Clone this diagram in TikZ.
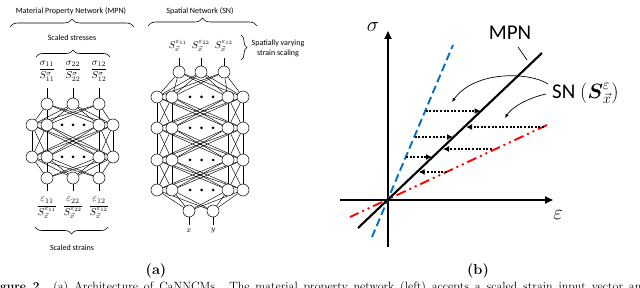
\documentclass[tikz,border=0pt]{standalone}
\usepackage{fontspec}
\usepackage{amsmath}
\setsansfont{Carlito}
\usetikzlibrary{arrows.meta,decorations.pathreplacing,backgrounds}
\definecolor{lineblue}{RGB}{0,112,192}
\definecolor{linered}{RGB}{255,0,0}
\begin{document}
\begin{tikzpicture}[x=1pt,y=-1pt,
  neuron/.style={circle,draw,fill=white,minimum size=12pt,inner sep=0pt,line width=0.5pt},
  edge/.style={line width=0.45pt},
  ndot/.style={circle,fill=black,minimum size=3pt,inner sep=0pt},
  lbl/.style={font=\sffamily\fontsize{8}{9.5}\selectfont,inner sep=0pt},
  frc/.style={font=\fontsize{10}{12}\selectfont,inner sep=0pt},
  slbl/.style={font=\fontsize{10}{12}\selectfont,inner sep=0pt},
  brc/.style={decorate,decoration={brace,amplitude=#1},line width=0.6pt},
  brc/.default=8pt,
  axisline/.style={line width=1.8pt,-{Triangle[length=8pt,width=7pt]}},
  dotarrow/.style={line width=2pt,dash pattern=on 2pt off 1.6pt,-{Latex[length=6pt,width=6pt]}},
  curvearrow/.style={line width=0.7pt,-{Latex[length=4pt,width=3.5pt]}},
  biglbl/.style={font=\sffamily\fontsize{21}{24}\selectfont,inner sep=0pt}
]
\useasboundingbox (0,0) rectangle (640,288);
\clip (0,0) rectangle (640,288);

%================ MPN =================
\node[lbl] (mtitle) at (71,11) {Material Property Network (MPN)};
\draw[brc] (10,27) -- (134,27);
\node[lbl] (mstress) at (72,38) {Scaled stresses};
\draw[brc=7pt] (36,57) -- (110,57);

\foreach \x/\n in {47/1,73/2,99/3} {
  \node[neuron] (mo\n) at (\x,104) {};
  \node[neuron] (mi\n) at (\x,178) {};
}
\foreach \x/\n in {32/1,47/2,99/3,113/4} {
  \node[neuron] (ma\n) at (\x,125) {};
  \node[neuron] (mb\n) at (\x,157) {};
}
\foreach \y/\l in {125/a,157/b} \foreach \x/\k in {62/1,73/2,84/3}
  \node[ndot] (md\l\k) at (\x,\y) {};

\begin{scope}[on background layer]
\foreach \i in {1,2,3} \foreach \j in {1,...,4} {
  \draw[edge] (mo\i) -- (ma\j);
  \draw[edge] (mi\i) -- (mb\j);
}
\foreach \i in {1,...,4} \foreach \j in {1,...,4} \draw[edge] (ma\i) -- (mb\j);
\end{scope}

\node[frc] (fo1) at (47,71) {$\dfrac{\sigma_{11}}{S^{\sigma}_{11}}$};
\node[frc] (fo2) at (73,71) {$\dfrac{\sigma_{22}}{S^{\sigma}_{22}}$};
\node[frc] (fo3) at (99,71) {$\dfrac{\sigma_{12}}{S^{\sigma}_{12}}$};
\foreach \x/\n in {47/1,73/2,99/3} {
  \coordinate (mt\n) at (\x,88);
  \coordinate (mu\n) at (\x,191);
  \draw[edge] (mo\n) -- (mt\n);
  \draw[edge] (mi\n) -- (mu\n);
}
\node[frc] (fi1) at (47,208) {$\dfrac{\varepsilon_{11}}{S_{\vec{x}}^{\varepsilon_{11}}}$};
\node[frc] (fi2) at (73,208) {$\dfrac{\varepsilon_{22}}{S_{\vec{x}}^{\varepsilon_{22}}}$};
\node[frc] (fi3) at (99,208) {$\dfrac{\varepsilon_{12}}{S_{\vec{x}}^{\varepsilon_{12}}}$};
\draw[brc=7pt] (108,227) -- (35,227);
\node[lbl] (mstrain) at (72,248) {Scaled strains};

%================ SN =================
\node[lbl] (stitle) at (200,11) {Spatial Network (SN)};
\draw[brc] (148,26) -- (257,26);
\node[slbl] (sl1) at (178,46) {$S^{\varepsilon_{11}}_{\vec{x}}$};
\node[slbl] (sl2) at (201,46) {$S^{\varepsilon_{22}}_{\vec{x}}$};
\node[slbl] (sl3) at (224,46) {$S^{\varepsilon_{12}}_{\vec{x}}$};
\draw[brc=6pt] (241,35) -- (241,60);
\node[lbl,align=center] (svary) at (278,48.5) {Spatially varying\\strain scaling};

\foreach \x/\n in {179/1,201/2,224/3} {
  \node[neuron] (so\n) at (\x,72) {};
  \coordinate (st\n) at (\x,58);
  \draw[edge] (so\n) -- (st\n);
}
\foreach \l/\y in {a/97,b/128,c/160,d/190} {
  \foreach \x/\n in {157/1,172/2,228/3,243/4} \node[neuron] (s\l\n) at (\x,\y) {};
  \foreach \x/\k in {190/1,201.5/2,213/3} \node[ndot] (sd\l\k) at (\x,\y) {};
}
\node[neuron] (si1) at (189,211) {};
\node[neuron] (si2) at (213,211) {};
\begin{scope}[on background layer]
\foreach \i in {1,2,3} \foreach \j in {1,...,4} \draw[edge] (so\i) -- (sa\j);
\foreach \p/\q in {a/b,b/c,c/d} \foreach \i in {1,...,4} \foreach \j in {1,...,4}
  \draw[edge] (s\p\i) -- (s\q\j);
\foreach \i in {1,2} \foreach \j in {1,...,4} \draw[edge] (si\i) -- (sd\j);
\end{scope}
\coordinate (sx1) at (189,225);
\coordinate (sx2) at (213,225);
\draw[edge] (si1) -- (sx1);
\draw[edge] (si2) -- (sx2);
\node[font=\fontsize{8}{9}\selectfont,inner sep=0pt] (lx) at (189,231) {$x$};
\node[font=\fontsize{8}{9}\selectfont,inner sep=0pt] (ly) at (213,231) {$y$};

%================ Plot (b) =================
\coordinate (ax0) at (340,200);
\coordinate (ax1) at (553,200);
\coordinate (ay0) at (388,247);
\coordinate (ay1) at (388,31);
\draw[axisline] (ax0) -- (ax1);
\draw[axisline] (ay0) -- (ay1);
\node[font=\fontsize{20}{22}\selectfont,inner sep=0pt] (sig) at (373,27) {$\sigma$};
\node[font=\fontsize{20}{22}\selectfont,inner sep=0pt] (eps) at (558,215) {$\varepsilon$};

\coordinate (bl0) at (372,237);
\coordinate (bl1) at (453,45);
\draw[lineblue,line width=1.9pt,dash pattern=on 8pt off 4pt] (bl0) -- (bl1);
\coordinate (rd0) at (350,217);
\coordinate (rd1) at (547,125);
\draw[linered,line width=1.9pt,dash pattern=on 10pt off 4pt on 2pt off 4pt on 2pt off 4pt] (rd1) -- (rd0);
\coordinate (mp0) at (358,228);
\coordinate (mp1) at (542,53);
\draw[line width=2.1pt] (mp0) -- (mp1);

% dotted arrows
\coordinate (d1s) at (425.5,111); \coordinate (d1e) at (480.5,111);
\coordinate (d2s) at (544,127);   \coordinate (d2e) at (466,127);
\coordinate (d3s) at (414.6,137); \coordinate (d3e) at (453,137);
\coordinate (d4s) at (492,149);   \coordinate (d4e) at (443,149);
\coordinate (d5s) at (406.1,157); \coordinate (d5e) at (432,157);
\coordinate (d6s) at (447,172);   \coordinate (d6e) at (418.6,172);
\foreach \k in {1,...,6} \draw[dotarrow] (d\k s) -- (d\k e);

% labels
\node[biglbl] (mpn) at (510,33) {MPN};
\coordinate (mpa) at (518,47);
\coordinate (mpb) at (527,60);
\draw[line width=0.7pt] (mpa) -- (mpb);
\node[biglbl,anchor=west] (sn) at (552,93) {SN $(\boldsymbol{S}^{\varepsilon}_{\vec{x}})$};
\coordinate (c1s) at (548,84);
\coordinate (c1e) at (452,102);
\draw[curvearrow] (c1s) .. controls (530,72) and (475,70) .. (c1e);
\coordinate (c2s) at (546,94);
\coordinate (c2e) at (505,118);
\draw[curvearrow] (c2s) .. controls (528,98) and (512,107) .. (c2e);

%================ sub labels and caption =================
\node[font=\bfseries\fontsize{14.5}{16}\selectfont,inner sep=0pt] (la) at (156,271) {(a)};
\node[font=\bfseries\fontsize{14.5}{16}\selectfont,inner sep=0pt] (lb) at (478,271) {(b)};
\node[anchor=base west,inner sep=0pt,font=\fontsize{12}{14}\selectfont] (cap) at (-12.3,291)
  {\hbox to 660pt{\textbf{Figure 2.}\hspace{10pt}(a) Architecture of CaNNCMs. The material property network (left) accepts a scaled strain input vector and}};
\end{tikzpicture}
\end{document}
